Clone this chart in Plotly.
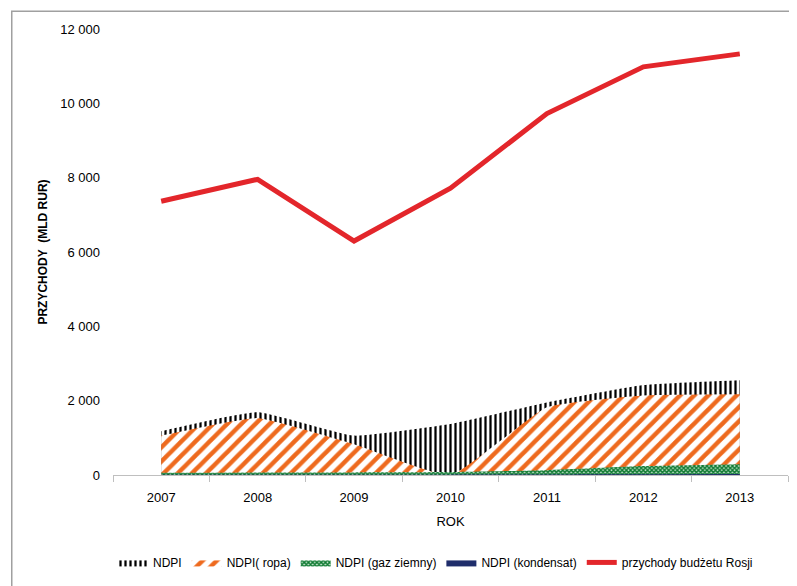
import plotly.graph_objects as go

years = ["2007", "2008", "2009", "2010", "2011", "2012", "2013"]
ndpi_total = [1180, 1690, 1060, 1370, 1950, 2420, 2550]
ndpi_ropa = [1060, 1530, 830, 0, 1820, 2140, 2170]
ndpi_gaz = [60, 70, 70, 80, 130, 240, 290]
ndpi_kondensat = [10, 10, 10, 10, 15, 20, 25]
przychody = [7366, 7956, 6295, 7715, 9724, 10983, 11331]

FONT = "Liberation Sans, Arial, sans-serif"
SM = 0.4

fig = go.Figure()
fig.add_trace(go.Scatter(
    x=years, y=ndpi_total, name="NDPI", mode="lines", fill="tozeroy",
    line=dict(width=0, shape="spline", smoothing=SM, color="black"),
    fillcolor="white",
    fillpattern=dict(shape="|", fgcolor="#000000", fgopacity=1, bgcolor="white",
                     size=5, solidity=0.45),
))
fig.add_trace(go.Scatter(
    x=years, y=ndpi_ropa, name="NDPI( ropa)", mode="lines", fill="tozeroy",
    line=dict(width=0, shape="spline", smoothing=SM, color="#F07D32"),
    fillcolor="white",
    fillpattern=dict(shape="/", fgcolor="#EE6A1E", fgopacity=1, bgcolor="white",
                     size=10, solidity=0.45),
))
fig.add_trace(go.Scatter(
    x=years, y=ndpi_gaz, name="NDPI (gaz ziemny)", mode="lines", fill="tozeroy",
    line=dict(width=0, shape="spline", smoothing=SM, color="#1E8C3C"),
    fillcolor="white",
    fillpattern=dict(shape="x", fgcolor="#0F7A32", fgopacity=1, bgcolor="#BFE0C8",
                     size=3, solidity=0.7),
))
fig.add_trace(go.Scatter(
    x=years, y=ndpi_kondensat, name="NDPI (kondensat)", mode="lines", fill="tozeroy",
    line=dict(width=0, shape="spline", smoothing=SM, color="#1F2D6B"),
    fillcolor="#1F2D6B",
))
fig.add_trace(go.Scatter(
    x=years, y=przychody, name="przychody budżetu Rosji", mode="lines",
    line=dict(width=5, color="#E3262B"),
))

fig.update_layout(
    width=789, height=578,
    margin=dict(l=105, r=9, t=21, b=109),
    paper_bgcolor="white", plot_bgcolor="white",
    separators=", ",
    font=dict(family=FONT, size=13, color="black"),
    showlegend=True,
    legend=dict(orientation="h", x=0.0, xanchor="left", y=-0.196, yanchor="middle",
                font=dict(family=FONT, size=12), itemwidth=30, tracegroupgap=0),
    xaxis=dict(
        type="category", range=[-0.5, 6.5], showgrid=False, showline=True,
        linecolor="#BFBFBF", linewidth=1,
        ticks="outside", tickson="boundaries", tickcolor="#BFBFBF", ticklen=6,
        ticklabelstandoff=10,
        title=dict(text="ROK", font=dict(size=13), standoff=13),
        tickfont=dict(size=13),
    ),
    yaxis=dict(
        range=[0, 12000], dtick=2000, tickformat=",d", showgrid=False, zeroline=False,
        showline=False, ticks="", ticklabelstandoff=12,
        title=dict(text="<b>PRZYCHODY  (MLD RUR)</b>", font=dict(size=12), standoff=10),
        tickfont=dict(size=13),
    ),
    shapes=[
        dict(type="rect", xref="paper", yref="paper", x0=-0.15, x1=1.05, y0=1.04, y1=-0.3,
             line=dict(color="#A0A0A0", width=1.5), fillcolor="rgba(0,0,0,0)", layer="above"),
    ],
)

fig.write_html("out.html")
